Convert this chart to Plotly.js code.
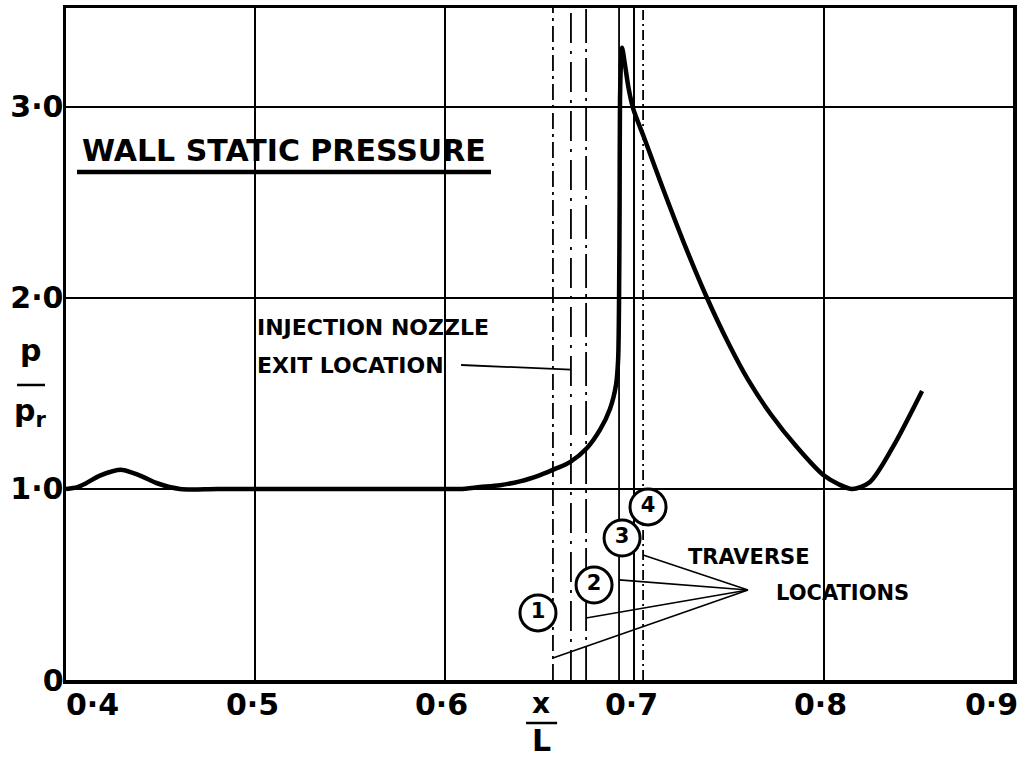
<!DOCTYPE html>
<html><head><meta charset="utf-8">
<script src="https://cdn.plot.ly/plotly-3.0.1.min.js"></script>
<style>html,body{margin:0;padding:0;background:#fff}#chart{width:1022px;height:757px}</style>
</head><body><div id="chart"></div>
<script>
// ---- data ----
const xOverL = [0.400,0.406,0.4106,0.4179,0.4296,0.4391,0.4481,0.4602,0.480,0.520,0.560,0.600,0.608,0.6186,0.6291,0.6397,0.6503,0.6582,0.6661,0.6751,0.6819,0.6872,0.6904,0.6915,0.6920,0.6923,0.6925,0.6931,0.6936,0.6950,0.6970,0.6995,0.7052,0.7105,0.7173,0.7273,0.7384,0.7495,0.7601,0.7722,0.7860,0.7997,0.8077,0.8151,0.8245,0.8366,0.8520];
const pOverPr = [1.0,1.01,1.03,1.07,1.10,1.07,1.03,1.0,1.0,1.0,1.0,1.0,1.0,1.01,1.02,1.04,1.073,1.105,1.141,1.215,1.309,1.419,1.545,1.675,1.99,2.51,3.04,3.25,3.31,3.23,3.10,2.99,2.84,2.697,2.517,2.262,2.001,1.768,1.572,1.39,1.218,1.074,1.026,1.0,1.037,1.22,1.513];
const xTickVals = [0.4,0.5,0.6,0.7,0.8,0.9];
const xTickText = ['0·4','0·5','0·6','0·7','0·8','0·9'];
const yTickVals = [0,1,2,3];
const yTickText = ['0','1·0','2·0','3·0'];
const traverseX = [0.6571,0.6746,0.6920,0.7047];
const traverseNames = ['1','2','3','4'];
const traverseLabelX = [0.6492,0.6788,0.6936,0.7073];
const traverseLabelY = [0.351,0.497,0.743,0.906];
const leaderEndY = [0.115,0.325,0.524,0.654];
const leaderHub = [0.7601,0.471];
const nozzleX = 0.6666;

// ---- drawing ----
const F = 'DejaVu Sans';
const ink = '#000';
const dashes = ['16px,5px,3px,5px','34px,6px,3px,6px','solid','10px,4px,2px,4px'];

const traces = [
  {x:xOverL, y:pOverPr, type:'scatter', mode:'lines',
   line:{color:ink, width:4.5, shape:'spline', smoothing:0.8}, hoverinfo:'x+y', showlegend:false},
  {x:traverseLabelX, y:traverseLabelY, type:'scatter', mode:'markers+text',
   text:traverseNames, textposition:'middle center',
   textfont:{family:F, size:21, color:ink, weight:'bold'},
   marker:{symbol:'circle', size:36, color:'#fff', line:{color:ink, width:3}},
   showlegend:false, hoverinfo:'text'}
];

const shapes = [];
traverseX.forEach((xv,i)=>{
  shapes.push({type:'line', xref:'x', yref:'paper', x0:xv, x1:xv, y0:0, y1:1,
    line:{color:ink, width:1.8, dash:dashes[i]}, layer:'below'});
  shapes.push({type:'line', xref:'x', yref:'y', x0:leaderHub[0], y0:leaderHub[1], x1:xv, y1:leaderEndY[i],
    line:{color:ink, width:1.6}});
});
shapes.push({type:'line', xref:'x', yref:'paper', x0:nozzleX, x1:nozzleX, y0:0, y1:1,
  line:{color:ink, width:1.8, dash:'30px,8px,3px,8px'}, layer:'below'});
// leader from nozzle text
shapes.push({type:'line', xref:'x', yref:'y', x0:0.6086, y0:1.649, x1:nozzleX, y1:1.625, line:{color:ink, width:1.8}});
// title underline
shapes.push({type:'line', xref:'x', yref:'y', x0:0.4058, x1:0.6244, y0:2.66, y1:2.66, line:{color:ink, width:4.5}});
// y label fraction bar
shapes.push({type:'line', xref:'paper', yref:'paper', x0:-0.0517, x1:-0.0222, y0:0.439, y1:0.439, line:{color:ink, width:2.5}});
// x label fraction bar
shapes.push({type:'line', xref:'x', yref:'paper', x0:0.6429, x1:0.6593, y0:-0.064, y1:-0.064, line:{color:ink, width:2.5}});

const annotations = [];
xTickVals.forEach((v,i)=>{
  const last = i===xTickVals.length-1, first = i===0;
  annotations.push({x:v, y:0, xref:'x', yref:'paper', text:xTickText[i], showarrow:false,
    xanchor: first?'left':(last?'right':'center'), yanchor:'top', xshift: last?7:(first?-2:-3), yshift:-5,
    font:{family:F, size:30, color:ink, weight:'bold'}});
});
const txt = (text,x,y,size,xa,extra)=>Object.assign({x:x,y:y,xref:'x',yref:'y',text:text,showarrow:false,
  xanchor:xa||'left', yanchor:'middle', font:{family:F, size:size, color:ink, weight:'bold'}}, extra||{});
annotations.push(txt('WALL STATIC PRESSURE',0.5151,2.77,30,'center'));
annotations.push(txt('INJECTION NOZZLE',0.4998,1.843,22));
annotations.push(txt('EXIT LOCATION',0.4998,1.649,22));
annotations.push(txt('TRAVERSE',0.7273,0.644,21));
annotations.push(txt('LOCATIONS',0.7738,0.4555,21));
// axis label fractions
annotations.push({xref:'paper', yref:'paper', x:-0.0370, y:0.49, text:'p', showarrow:false, xanchor:'center', yanchor:'middle',
  font:{family:F, size:30, color:ink, weight:'bold'}});
annotations.push({xref:'paper', yref:'paper', x:-0.0380, y:0.398, text:'p<sub>r</sub>', showarrow:false, xanchor:'center', yanchor:'middle',
  font:{family:F, size:30, color:ink, weight:'bold'}});
annotations.push({xref:'x', yref:'paper', x:0.6508, y:-0.035, text:'x', showarrow:false, xanchor:'center', yanchor:'middle',
  font:{family:F, size:28, color:ink, weight:'bold'}});
annotations.push({xref:'x', yref:'paper', x:0.6513, y:-0.0893, text:'L', showarrow:false, xanchor:'center', yanchor:'middle',
  font:{family:F, size:30, color:ink, weight:'bold'}});

const layout = {
  width:1022, height:757,
  margin:{l:66, r:9, t:8, b:77},
  paper_bgcolor:'#fff', plot_bgcolor:'#fff',
  showlegend:false,
  xaxis:{range:[0.4,0.9], tickvals:xTickVals, showticklabels:false, ticks:'',
    showgrid:true, gridcolor:ink, gridwidth:2, zeroline:false,
    showline:true, linecolor:ink, linewidth:3.5, mirror:true},
  yaxis:{range:[0,3.518], tickvals:yTickVals, ticktext:yTickText, ticks:'', ticklabelstandoff:-7,
    tickfont:{family:F, size:30, color:ink, weight:'bold'},
    showgrid:true, gridcolor:ink, gridwidth:2, zeroline:false,
    showline:true, linecolor:ink, linewidth:3.5, mirror:true},
  shapes:shapes, annotations:annotations
};
Plotly.newPlot('chart', traces, layout, {displayModeBar:false, staticPlot:true});
</script></body></html>
